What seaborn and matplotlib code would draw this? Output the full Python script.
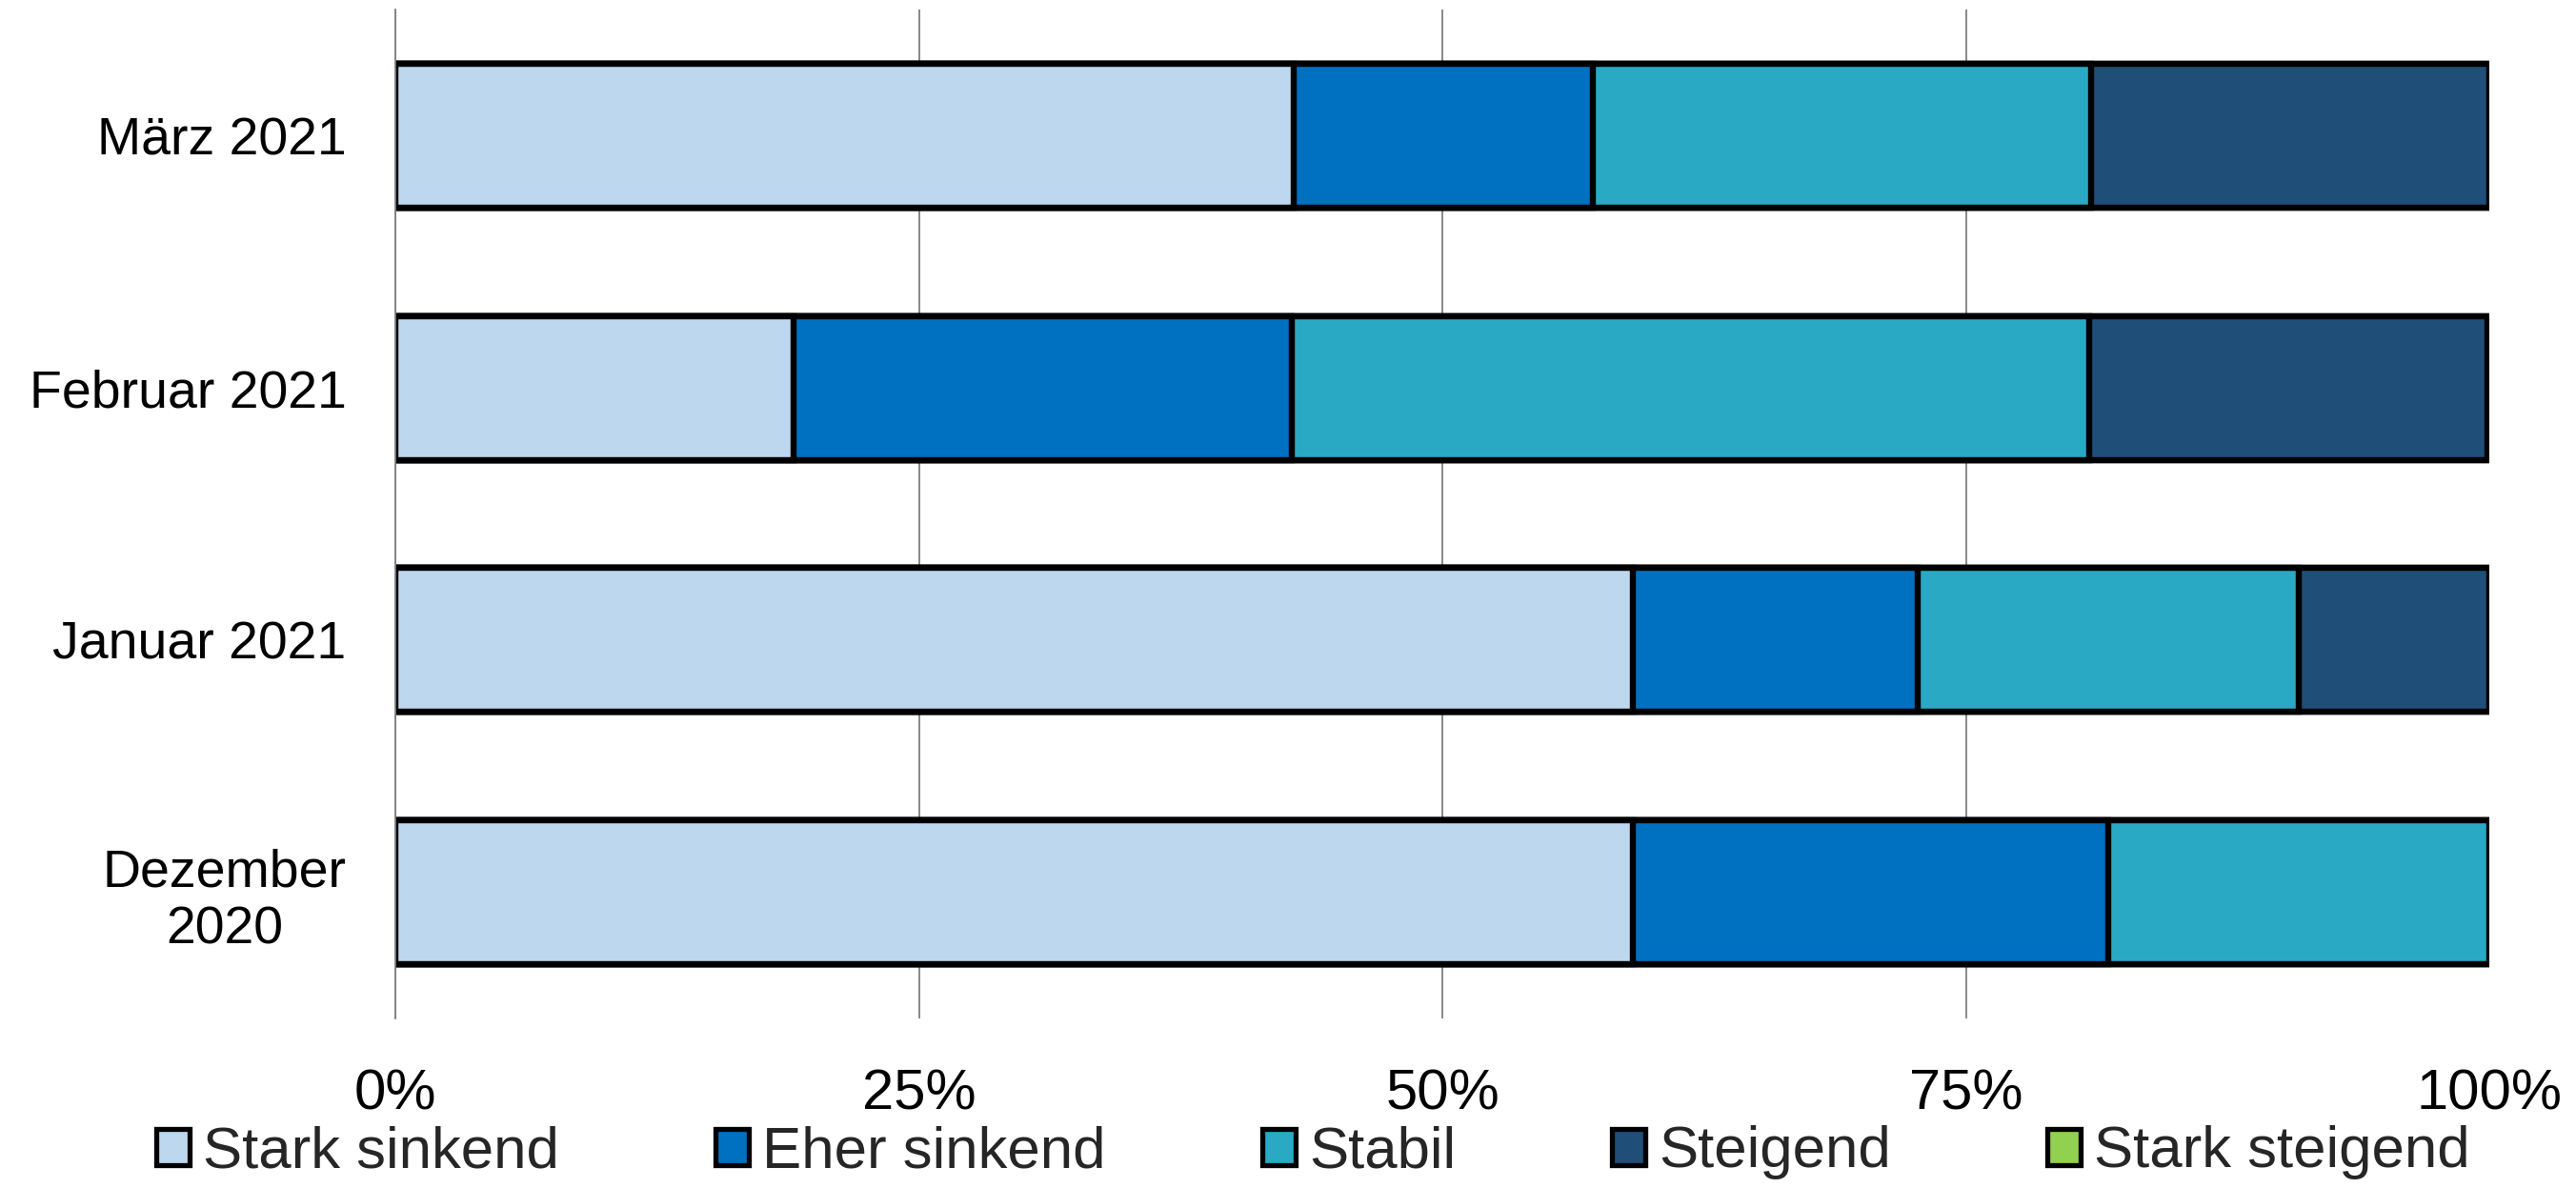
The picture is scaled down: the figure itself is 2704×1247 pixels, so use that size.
import matplotlib
matplotlib.use("Agg")
import matplotlib.pyplot as plt
from matplotlib.patches import Patch
import numpy as np
import pandas as pd
import seaborn as sns

# Survey months (top to bottom)
categories = ["März 2021", "Februar 2021", "Januar 2021", "Dezember\n2020"]

# Share of answers per month, in percent
stark_sinkend = [42.9, 19.0, 59.1, 59.1]
eher_sinkend = [14.3, 23.8, 13.6, 22.7]
stabil = [23.8, 38.1, 18.2, 18.2]
steigend = [19.0, 19.0, 9.1, 0.0]
stark_steigend = [0.0, 0.0, 0.0, 0.0]

series_names = ["Stark sinkend", "Eher sinkend", "Stabil", "Steigend", "Stark steigend"]
series_values = [stark_sinkend, eher_sinkend, stabil, steigend, stark_steigend]
series_colors = ["#BDD7EE", "#0070C0", "#29A9C4", "#1F4E79", "#92D050"]

x_ticks = [0, 25, 50, 75, 100]
x_ticklabels = ["0%", "25%", "50%", "75%", "100%"]

sns.set_style("white")
plt.rcParams["font.family"] = ["Liberation Sans", "DejaVu Sans"]

df = pd.DataFrame({name: vals for name, vals in zip(series_names, series_values)})
df["Monat"] = categories
cum = df[series_names].cumsum(axis=1)

fig = plt.figure(figsize=(27.04, 12.47), dpi=100)
ax = fig.add_axes([415 / 2704, 1 - 1069 / 1247, (2613 - 415) / 2704, (1069 - 10) / 1247])

# Stacked bars: draw the cumulative totals from the outermost segment inward
for name, color in reversed(list(zip(series_names, series_colors))):
    sns.barplot(
        x=cum[name], y=df["Monat"], order=categories, orient="h",
        color=color, saturation=1, width=0.57, errorbar=None,
        edgecolor="black", linewidth=4.6, ax=ax,
    )

ax.set_xlim(0, 100)
ax.set_ylim(3.5, -0.5)
ax.set_xticks(x_ticks)
ax.set_xticklabels(x_ticklabels)
ax.set_xlabel("")
ax.set_ylabel("")
ax.set_axisbelow(True)
ax.grid(axis="x", color="#7F7F7F", linewidth=1.3)
ax.grid(axis="y", visible=False)
ax.xaxis.get_gridlines()[-1].set_visible(False)
for side in ["top", "right", "bottom"]:
    ax.spines[side].set_visible(False)
ax.spines["left"].set_color("#7F7F7F")
ax.spines["left"].set_linewidth(1.3)

ax.tick_params(axis="x", length=0, pad=38, labelsize=43, colors="black")
ax.tick_params(axis="y", length=0, pad=37, labelsize=40, colors="black")
for lbl in ax.get_yticklabels():
    lbl.set_multialignment("center")
    lbl.set_linespacing(1.2)

handles = [Patch(facecolor=c, edgecolor="black", linewidth=3.8) for c in series_colors]
fig.legend(
    handles, series_names, loc="center", ncol=5, frameon=False,
    bbox_to_anchor=(1378.5 / 2704, 1 - 1210 / 1247),
    fontsize=44.5, handlelength=0.57, handleheight=0.57, handletextpad=0.23,
    columnspacing=2.65, borderpad=0, borderaxespad=0,
)

fig.savefig("out.png", dpi=100, facecolor="white")
